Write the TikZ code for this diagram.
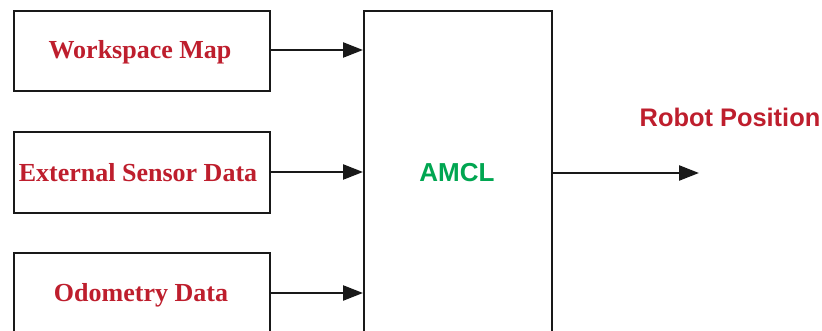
\documentclass[tikz,border=0pt]{standalone}
\usepackage{fontspec}
\setmainfont{Liberation Serif}
\newfontfamily\labelsans{Liberation Sans}
\usetikzlibrary{arrows.meta}
\definecolor{lblred}{RGB}{190,30,45}
\definecolor{lblgreen}{RGB}{0,166,81}
\begin{document}
\begin{tikzpicture}[x=1pt,y=-1pt,
  blockbox/.style={draw=black!90,line width=2.4pt,fill=white},
  inlabel/.style={text=lblred,font=\fontsize{26}{29}\selectfont\bfseries},
  conn/.style={draw=black!90,line width=2.4pt,-{Triangle[length=20pt,width=15pt]}}]
\useasboundingbox (0,0) rectangle (822,331);
\begin{scope}
\clip (0,0) rectangle (822,331);
\node[blockbox,minimum width=256pt,minimum height=80pt,anchor=north west,inner sep=0pt] (b1) at (13,10) {};
\node[blockbox,minimum width=256pt,minimum height=81pt,anchor=north west,inner sep=0pt] (b2) at (13,131) {};
\node[blockbox,minimum width=256pt,minimum height=100pt,anchor=north west,inner sep=0pt] (b3) at (13,252) {};
\node[blockbox,minimum width=188pt,minimum height=340pt,anchor=north west,inner sep=0pt] (amcl) at (363,10) {};
\end{scope}
\node[inlabel] (t1) at (140,52) {Workspace Map};
\node[inlabel] (t2) at (138,173) {External Sensor Data};
\node[inlabel] (t3) at (141,295) {Odometry Data};
\node[text=lblgreen,font=\fontsize{26}{29}\selectfont\labelsans\bfseries] (t4) at (457,173) {AMCL};
\node[text=lblred,font=\fontsize{25.4}{28}\selectfont\labelsans\bfseries] (rp) at (730,117) {Robot Position};
\coordinate (a1) at (269,50);
\coordinate (a1e) at (363,50);
\coordinate (a2) at (269,172);
\coordinate (a2e) at (363,172);
\coordinate (a3) at (269,293);
\coordinate (a3e) at (363,293);
\coordinate (o1) at (551,173);
\coordinate (o1e) at (699,173);
\draw[conn] (a1) -- (a1e);
\draw[conn] (a2) -- (a2e);
\draw[conn] (a3) -- (a3e);
\draw[conn] (o1) -- (o1e);
\end{tikzpicture}
\end{document}
